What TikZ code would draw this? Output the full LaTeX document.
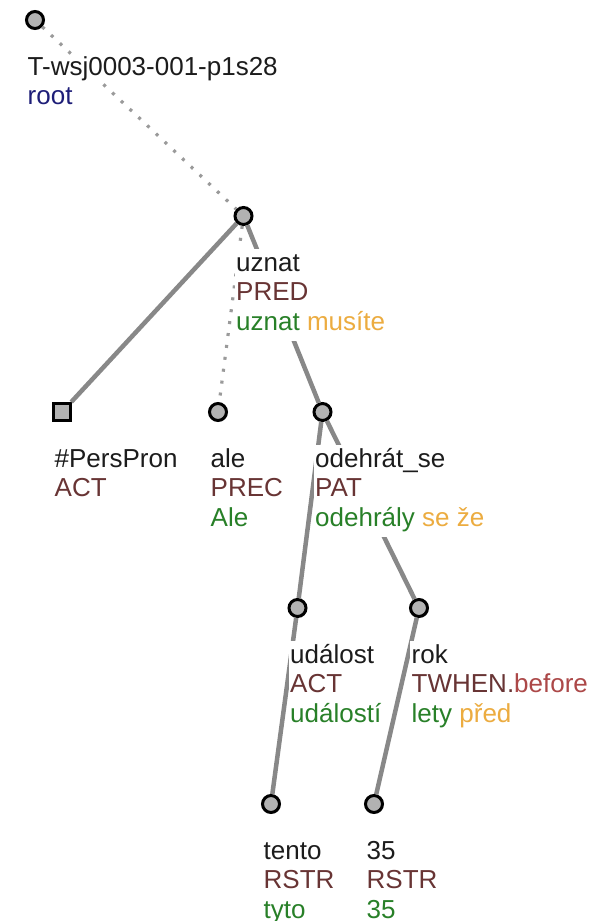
\documentclass[tikz,border=0pt]{standalone}
\usepackage{fontspec}
\setmainfont{Liberation Sans}
\usepackage{tikz}
\usepackage{xcolor}
\definecolor{edgegrey}{RGB}{136,136,136}
\definecolor{nodegrey}{RGB}{178,178,178}
\definecolor{lemmacol}{RGB}{28,28,28}
\definecolor{functor}{RGB}{104,52,52}
\definecolor{rootcol}{RGB}{30,30,120}
\definecolor{formcol}{RGB}{40,128,40}
\definecolor{auxcol}{RGB}{236,172,64}
\definecolor{subfunctor}{RGB}{172,72,72}

\begin{document}
\begin{tikzpicture}[x=1pt, y=-1pt,
        tnode/.style={circle, draw=black, fill=nodegrey, line width=3pt, minimum size=17pt, inner sep=0pt},
        tsquare/.style={rectangle, draw=black, fill=nodegrey, line width=3pt, minimum size=17pt, inner sep=0pt},
        treeedge/.style={line width=4.5pt, edgegrey},
        dotlink/.style={line width=3.2pt, edgegrey!85, dash pattern=on 3pt off 9pt},
        lbl/.style={anchor=base west, fill=white, inner sep=1.5pt, text=lemmacol, font=\fontsize{26}{29.5}\selectfont},
        lblbox/.style={anchor=north west, fill=white, align=left, inner xsep=1.5pt, inner ysep=2pt, text=lemmacol, font=\fontsize{26}{29.5}\selectfont}]

        \useasboundingbox (0,0) rectangle (597,921);

        % Tree nodes
        \node[tnode] (root) at (35,20) {};
        \node[tnode] (uznat) at (243.5,216) {};
        \node[tsquare] (perspron) at (62,412) {};
        \node[tnode] (ale) at (218,412) {};
        \node[tnode] (odehrat) at (322.5,412) {};
        \node[tnode] (udalost) at (297.5,608) {};
        \node[tnode] (rok) at (419,608) {};
        \node[tnode] (tento) at (271,804) {};
        \node[tnode] (num35) at (374,804) {};

        % Edges
        \draw[dotlink] (root) -- (uznat);
        \draw[treeedge] (uznat) -- (perspron);
        \draw[dotlink] (uznat) -- (ale);
        \draw[treeedge] (uznat) -- (odehrat);
        \draw[treeedge] (odehrat) -- (udalost);
        \draw[treeedge] (odehrat) -- (rok);
        \draw[treeedge] (udalost) -- (tento);
        \draw[treeedge] (rok) -- (num35);

        % Labels (top of box = first baseline - 22.65)
        \node[lbl] (root-t) at (26,75) {T-wsj0003-001-p1s28};
        \node[lbl, text=rootcol] (root-f) at (26,104.5) {root};

        \node[lblbox] (uznat-l) at (234.5,248.35) {\strut uznat\\\strut\textcolor{functor}{PRED}\\\strut\textcolor{formcol}{uznat} \textcolor{auxcol}{musíte}};

        \node[lblbox] (perspron-l) at (53,444.35) {\strut\#PersPron\\\strut\textcolor{functor}{ACT}};

        \node[lblbox] (ale-l) at (209,444.35) {\strut ale\\\strut\textcolor{functor}{PREC}\\\strut\textcolor{formcol}{Ale}};

        \node[lblbox] (odehrat-l) at (313.5,444.35) {\strut odehrát\_se\\\strut\textcolor{functor}{PAT}\\\strut\textcolor{formcol}{odehrály} \textcolor{auxcol}{se že}};

        \node[lblbox] (udalost-l) at (288.5,640.35) {\strut událost\\\strut\textcolor{functor}{ACT}\\\strut\textcolor{formcol}{událostí}};

        \node[lblbox] (rok-l) at (410,640.35) {\strut rok\\\strut\textcolor{functor}{TWHEN.}\textcolor{subfunctor}{before}\\\strut\textcolor{formcol}{lety} \textcolor{auxcol}{před}};

        \node[lblbox] (tento-l) at (262,836.35) {\strut tento\\\strut\textcolor{functor}{RSTR}\\\strut\textcolor{formcol}{tyto}};

        \node[lblbox] (num35-l) at (365,836.35) {\strut 35\\\strut\textcolor{functor}{RSTR}\\\strut\textcolor{formcol}{35}};

    \end{tikzpicture}
\end{document}
